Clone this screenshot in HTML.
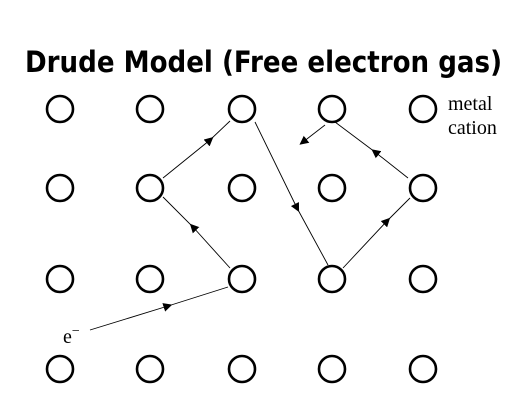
<!DOCTYPE html>
<html><head><style>html,body{margin:0;padding:0;background:#fff;}svg{display:block}</style></head>
<body>
<svg width="519" height="410" viewBox="0 0 519 410" xmlns="http://www.w3.org/2000/svg">
<defs><marker id="a" viewBox="0 0 10 10" refX="5" refY="5" markerWidth="9" markerHeight="9" orient="auto" markerUnits="userSpaceOnUse"><path d="M0,0 L10,5 L0,10 z" fill="#000"/></marker></defs>
<text x="25" y="72" font-family="'DejaVu Sans',sans-serif" font-weight="bold" font-size="29" textLength="477" lengthAdjust="spacingAndGlyphs">Drude Model (Free electron gas)</text>
<g fill="none" stroke="#000" stroke-width="2.6">
<circle cx="60" cy="109" r="13"/><circle cx="150" cy="109" r="13"/><circle cx="242" cy="109" r="13"/><circle cx="332" cy="109" r="13"/><circle cx="423" cy="109" r="13"/>
<circle cx="60" cy="188" r="13"/><circle cx="150" cy="188" r="13"/><circle cx="242" cy="188" r="13"/><circle cx="332" cy="188" r="13"/><circle cx="423" cy="188" r="13"/>
<circle cx="60" cy="279" r="13"/><circle cx="150" cy="279" r="13"/><circle cx="242" cy="279" r="13"/><circle cx="332" cy="279" r="13"/><circle cx="423" cy="279" r="13"/>
<circle cx="60" cy="369" r="13"/><circle cx="150" cy="369" r="13"/><circle cx="242" cy="369" r="13"/><circle cx="332" cy="369" r="13"/><circle cx="423" cy="369" r="13"/>
</g>
<g stroke="#000" stroke-width="0.9" fill="none">
<polyline points="90,330 168,306 228,287" marker-mid="url(#a)"/>
<polyline points="230,268 193,227 163,197" marker-mid="url(#a)"/>
<polyline points="163,178 210,140 230,121" marker-mid="url(#a)"/>
<polyline points="255,122 297,208 328,265" marker-mid="url(#a)"/>
<polyline points="343,268 387,221 410,198" marker-mid="url(#a)"/>
<polyline points="408,178 375,152 335,122" marker-mid="url(#a)"/>
<line x1="325" y1="125" x2="303" y2="142" marker-end="url(#a)"/>
</g>
<g font-family="'Liberation Serif',serif" font-size="20" fill="#000">
<text x="448" y="110">metal</text>
<text x="448" y="134">cation</text>
<text x="63" y="343">e<tspan font-size="14" dy="-8">−</tspan></text>
</g>
</svg>
</body></html>
